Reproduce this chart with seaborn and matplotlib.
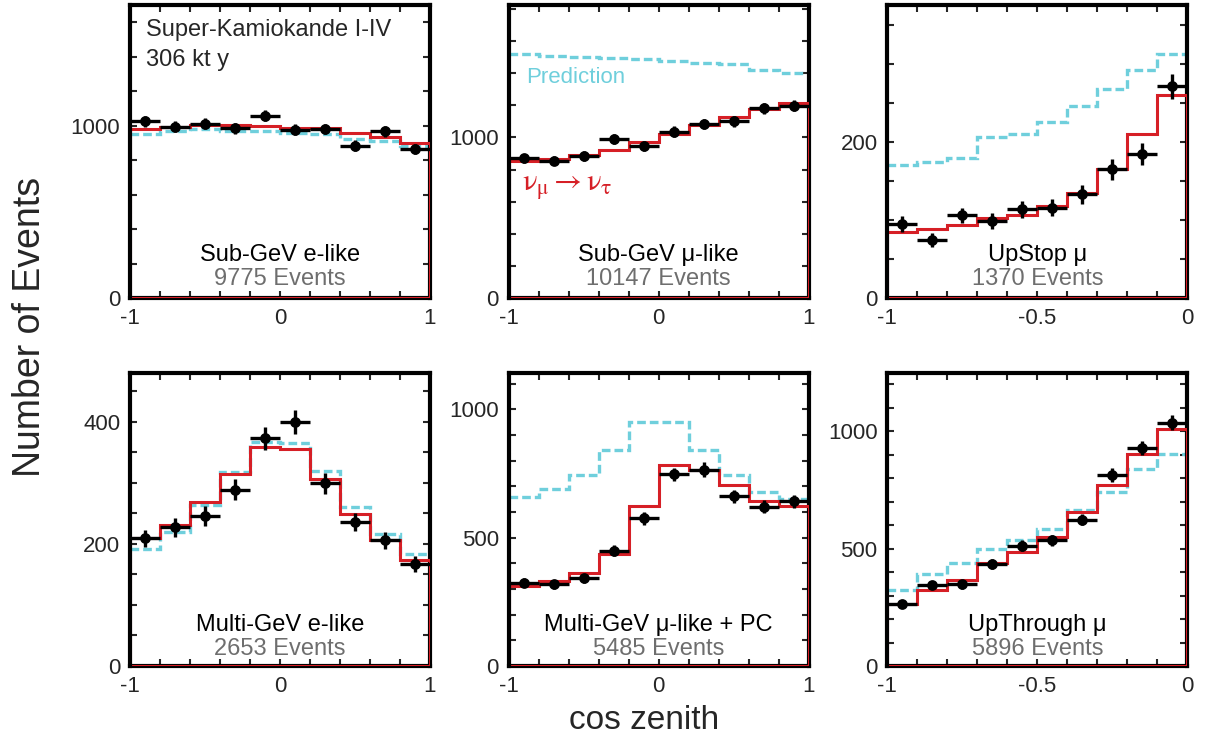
import numpy as np
import matplotlib
matplotlib.use('Agg')
import matplotlib.pyplot as plt
from matplotlib.ticker import MultipleLocator, FixedLocator
import seaborn as sns

sns.set_style('ticks')
plt.rcParams['font.family'] = ['Liberation Sans', 'DejaVu Sans']
plt.rcParams['mathtext.fontset'] = 'stix'

RED = '#d61f26'
CYAN = '#6fcfdc'
GREY = '#6e6e6e'

# Sub-GeV e-like
sge_data = [1025, 994, 1010, 984, 1058, 977, 981, 884, 967, 865]
sge_err = [32, 32, 32, 31, 33, 31, 31, 30, 31, 29]
sge_osc = [981, 994, 1006, 1006, 996, 987, 987, 955, 933, 900]
sge_pred = [952, 971, 981, 971, 967, 955, 952, 923, 913, 880]

# Sub-GeV mu-like
sgm_data = [870, 855, 886, 990, 944, 1037, 1083, 1101, 1183, 1197]
sgm_err = [29, 29, 30, 31, 31, 32, 33, 33, 34, 35]
sgm_osc = [855, 868, 893, 922, 969, 1021, 1079, 1130, 1176, 1217]
sgm_pred = [1520, 1508, 1503, 1497, 1489, 1476, 1462, 1456, 1420, 1404]

# UpStop mu
ups_data = [95, 74, 106, 99, 114, 116, 133, 165, 185, 272]
ups_err = [10, 9, 10, 10, 11, 11, 12, 13, 14, 16]
ups_osc = [85, 89, 94, 103, 106, 118, 135, 165, 211, 260]
ups_pred = [171, 174, 180, 206, 210, 226, 247, 268, 292, 313]

# Multi-GeV e-like
mge_data = [209, 227, 246, 289, 373, 400, 299, 236, 206, 167]
mge_err = [14, 15, 16, 17, 19, 20, 17, 15, 14, 13]
mge_osc = [209, 231, 268, 315, 359, 355, 307, 249, 206, 173]
mge_pred = [191, 220, 264, 318, 367, 365, 320, 261, 217, 183]

# Multi-GeV mu-like + PC
mgm_data = [324, 318, 341, 449, 575, 746, 765, 661, 620, 642]
mgm_err = [18, 18, 18, 21, 24, 27, 28, 26, 25, 25]
mgm_osc = [311, 332, 363, 436, 625, 781, 763, 704, 643, 622]
mgm_pred = [659, 691, 743, 840, 951, 951, 840, 743, 676, 650]

# UpThrough mu
upt_data = [262, 345, 349, 434, 512, 536, 624, 813, 929, 1037]
upt_err = [16, 19, 19, 21, 23, 23, 25, 29, 30, 32]
upt_osc = [263, 323, 366, 437, 486, 550, 657, 770, 905, 1011]
upt_pred = [323, 394, 440, 497, 536, 582, 664, 742, 838, 902]

titles = ['Sub-GeV e-like', 'Sub-GeV \u03bc-like', 'UpStop \u03bc',
          'Multi-GeV e-like', 'Multi-GeV \u03bc-like + PC', 'UpThrough \u03bc']
counts = ['9775 Events', '10147 Events', '1370 Events',
          '2653 Events', '5485 Events', '5896 Events']

panels = [
    (sge_data, sge_err, sge_osc, sge_pred, (-1, 1), 1700, [0, 1000], 200),
    (sgm_data, sgm_err, sgm_osc, sgm_pred, (-1, 1), 1825, [0, 1000], 200),
    (ups_data, ups_err, ups_osc, ups_pred, (-1, 0), 376, [0, 200], 50),
    (mge_data, mge_err, mge_osc, mge_pred, (-1, 1), 480, [0, 200, 400], 50),
    (mgm_data, mgm_err, mgm_osc, mgm_pred, (-1, 1), 1141, [0, 500, 1000], 100),
    (upt_data, upt_err, upt_osc, upt_pred, (-1, 0), 1248, [0, 500, 1000], 100),
]

fig, axes = plt.subplots(2, 3, figsize=(12.09, 7.40), dpi=100)
fig.subplots_adjust(left=0.1075, right=0.982, bottom=0.1, top=0.9932,
                    wspace=0.263, hspace=0.256)

for i, ax in enumerate(axes.flat):
    data, err, osc, pred, xr, ytop, yticks, yminor = panels[i]
    edges = np.linspace(xr[0], xr[1], 11)
    centers = (edges[:-1] + edges[1:]) / 2
    half = (edges[1] - edges[0]) / 2

    ax.stairs(pred, edges, baseline=None, color=CYAN, lw=2.4,
              linestyle=(0, (2.6, 1.2)), zorder=2)
    ax.stairs(osc, edges, baseline=0, color=RED, lw=2.2, zorder=3)
    ax.axhline(0, color=RED, lw=2.2, zorder=3)
    ax.errorbar(centers, data, xerr=half, yerr=err, fmt='none',
                ecolor='black', elinewidth=2.4, capsize=0, zorder=4)
    sns.scatterplot(x=centers, y=data, ax=ax, color='black', s=60,
                    edgecolor='black', linewidth=0, zorder=5)

    ax.set_xlim(*xr)
    ax.set_ylim(0, ytop)
    if xr[1] == 1:
        ax.xaxis.set_major_locator(FixedLocator([-1, 0, 1]))
        ax.set_xticklabels(['-1', '0', '1'])
        ax.xaxis.set_minor_locator(MultipleLocator(0.2))
    else:
        ax.xaxis.set_major_locator(FixedLocator([-1, -0.5, 0]))
        ax.set_xticklabels(['-1', '-0.5', '0'])
        ax.xaxis.set_minor_locator(MultipleLocator(0.1))
    ax.yaxis.set_major_locator(FixedLocator(yticks))
    ax.set_yticklabels([str(t) for t in yticks])
    ax.yaxis.set_minor_locator(MultipleLocator(yminor))

    ax.tick_params(which='both', direction='in', top=True, right=True,
                   length=5, width=1.5, labelsize=16, pad=7)
    for s in ax.spines.values():
        s.set_linewidth(3)
        s.set_color('black')
        s.set_visible(True)
    # left frame sits over the red outline, the others stay under it
    ax.spines['left'].set_zorder(10)
    ax.spines['top'].set_zorder(10)
    ax.set_xlabel('')
    ax.set_ylabel('')

    ytxt = 0.147 if i < 3 else 0.14
    ax.text(0.5, ytxt, titles[i], transform=ax.transAxes, ha='center',
            va='center', fontsize=17, color='black', zorder=6)
    ax.text(0.5, ytxt - 0.081, counts[i], transform=ax.transAxes,
            ha='center', va='center', fontsize=17, color=GREY, zorder=6)

axes[0, 0].text(0.053, 0.915, 'Super-Kamiokande I-IV', transform=axes[0, 0].transAxes,
                ha='left', va='center', fontsize=17)
axes[0, 0].text(0.053, 0.812, '306 kt y', transform=axes[0, 0].transAxes,
                ha='left', va='center', fontsize=17)
axes[0, 1].text(0.057, 0.754, 'Prediction', transform=axes[0, 1].transAxes,
                ha='left', va='center', fontsize=16, color=CYAN)
axes[0, 1].text(0.045, 0.38, r'$\mathrm{\nu_\mu \rightarrow \nu_\tau}$',
                transform=axes[0, 1].transAxes, ha='left', va='center',
                fontsize=22, color=RED)

fig.text(0.025, 0.558, 'Number of Events', rotation=90, ha='center',
         va='center', fontsize=27)
fig.text(0.533, 0.027, 'cos zenith', ha='center', va='center', fontsize=24)

fig.savefig('out.png', dpi=100)
